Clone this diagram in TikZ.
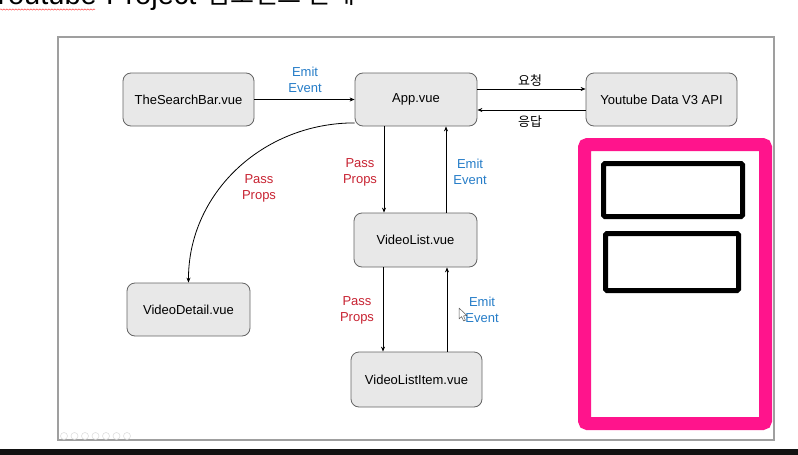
\documentclass[tikz,border=0pt]{standalone}
\usepackage{fontspec}
\setmainfont{Liberation Sans}
\newfontfamily\krfont{Noto Sans CJK KR}
\usetikzlibrary{arrows.meta,decorations.pathmorphing}
\definecolor{emitblue}{RGB}{38,125,200}
\definecolor{propred}{RGB}{200,35,50}
\definecolor{hotpink}{RGB}{255,20,140}
\definecolor{boxfill}{RGB}{232,232,232}
\definecolor{boxline}{RGB}{100,100,100}
\tikzset{
  comp/.style={draw=boxline, line width=0.8pt, fill=boxfill, rounded corners=8pt,
    font=\fontsize{13}{16}\selectfont, text=black, inner sep=0pt},
  conn/.style={draw=black, line width=0.8pt, -{Stealth[length=5pt,width=4pt]}},
  emitlbl/.style={text=emitblue, font=\fontsize{13}{16}\selectfont, align=center, inner sep=0pt},
  proplbl/.style={text=propred, font=\fontsize{13}{16}\selectfont, align=center, inner sep=0pt},
  krlbl/.style={text=black, font=\krfont\fontsize{13}{16}\selectfont, inner sep=0pt},
  titletxt/.style={text=black, inner sep=0pt},
  blackbox/.style={draw=black, line width=5pt, rounded corners=1.5pt},
}
\begin{document}
\begin{tikzpicture}[x=1pt,y=-1pt]
\useasboundingbox (0,0) rectangle (798,455);
\clip (0,0) rectangle (798,455);
\fill[white] (0,0) rectangle (798,455);

% title (cut off at top)
\node[titletxt, anchor=base east, font=\fontsize{29}{30}\selectfont] (t1) at (97,5) {Youtube};
\node[titletxt, anchor=base west, font=\fontsize{29}{30}\selectfont] (t2) at (106,5) {Project};
\node[titletxt, anchor=base west, font=\krfont\fontsize{26}{30}\selectfont] (t3) at (206,4) {컴포넌트 관계};
\draw[red!75, line width=0.5pt, decorate, decoration={snake, amplitude=0.6pt, segment length=3pt}] (0,9.5) -- (95,9.5);

% slide frame
\draw[draw=gray!75, line width=1.3pt] (58,37) rectangle (774,440);

% slide control icons
\foreach \i in {0,...,6} {
  \draw[gray!25, line width=0.6pt] (64+\i*10.5,436) circle (3.5);
}

% components
\node[comp, minimum width=131pt, minimum height=53pt] (sb) at (188.5,99.5) {TheSearchBar.vue};
\node[comp, minimum width=122pt, minimum height=53pt] (app) at (416,99.5) {App.vue};
\node[comp, minimum width=151pt, minimum height=53pt] (api) at (661.5,99.5) {Youtube Data V3 API};
\node[comp, minimum width=123pt, minimum height=54pt] (vl) at (415.5,240) {VideoList.vue};
\node[comp, minimum width=123pt, minimum height=53pt] (vd) at (188.5,309.5) {VideoDetail.vue};
\node[comp, minimum width=131pt, minimum height=55pt] (vli) at (416.5,379.5) {VideoListItem.vue};

% connectors
\draw[conn] (sb.east) -- (app.west);
\draw[conn] ([yshift=10.5pt]app.east) -- ([yshift=10.5pt]api.west);
\draw[conn] ([yshift=-10.5pt]api.west) -- ([yshift=-10.5pt]app.east);
\coordinate (xa) at (384,0);
\coordinate (xb) at (446,0);
\coordinate (xc) at (383,0);
\coordinate (xd) at (447,0);
\draw[conn] (xa |- app.south) -- (xa |- vl.north);
\draw[conn] (xb |- vl.north) -- (xb |- app.south);
\draw[conn] (xc |- vl.south) -- (xc |- vli.north);
\draw[conn] (xd |- vli.north) -- (xd |- vl.south);
\draw[conn] ([yshift=3.5pt]app.south west) .. controls (262,123) and (188,194) .. (vd.north);

% labels
\node[emitlbl] (l1) at (305,80) {Emit\\Event};
\node[krlbl] (l2) at (530,81) {요청};
\node[krlbl] (l3) at (530,122) {응답};
\node[proplbl] (l4) at (259,188) {Pass\\Props};
\node[proplbl] (l5) at (360,172) {Pass\\Props};
\node[emitlbl] (l6) at (470,172) {Emit\\Event};
\node[proplbl] (l7) at (357,310) {Pass\\Props};
\node[emitlbl] (l8) at (482,310) {Emit\\Event};

% mouse cursor
\draw[fill=white, draw=gray!70!black, line width=0.5pt, line join=round]
  (459,308) -- (459,319) -- (461.6,316.6) -- (463.6,321) -- (465.4,320.2) -- (463.5,315.8) -- (467,315.6) -- cycle;

% pink overlay box
\draw[draw=hotpink, line width=13pt, rounded corners=3pt] (584.5,144.5) rectangle (765.5,423.5);
\draw[blackbox] (603.5,163.5) rectangle (742.5,216.5);
\draw[blackbox] (605.5,233.5) rectangle (738.5,290.5);

% bottom bar
\fill[black!93] (0,449) rectangle (798,455);
\end{tikzpicture}
\end{document}
